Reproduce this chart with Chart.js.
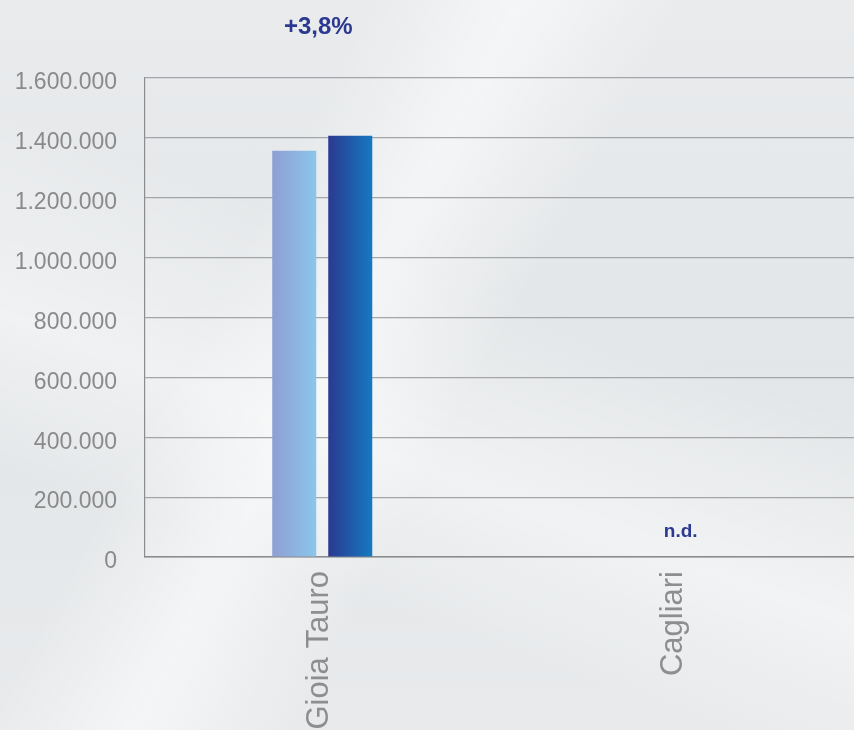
<!DOCTYPE html>
<html>
<head>
<meta charset="utf-8">
<script src="https://cdn.jsdelivr.net/npm/chart.js@4"></script>
<style>
  html, body { margin: 0; padding: 0; }
  body {
    width: 854px; height: 730px; overflow: hidden;
    background:
      linear-gradient(118deg, rgba(255,255,255,0) 30%, rgba(255,255,255,0.55) 42%, rgba(255,255,255,0) 55%),
      linear-gradient(200deg, rgba(255,255,255,0) 40%, rgba(255,255,255,0.45) 60%, rgba(255,255,255,0) 75%),
      linear-gradient(180deg, #e9ebed 0%, #e3e6e8 50%, #e8eaec 100%);
  }
  #wrap { position: relative; width: 854px; height: 730px; }
</style>
</head>
<body>
<div id="wrap"><canvas id="portsChart" width="854" height="730"></canvas></div>
<script>
const ports = ['Gioia Tauro', 'Cagliari'];
const previousYear = [1357000, null];
const currentYear = [1407000, null];
const notes = ['+3,8%', 'n.d.'];

const catPct = 0.316;
const barPct = 0.786;

function formatIt(v) {
    return String(v).replace(/\B(?=(\d{3})+(?!\d))/g, '.');
}

function barGradient(c0, c1) {
    return function (context) {
        const chart = context.chart;
        const xs = chart.scales.x;
        if (!xs || !chart.chartArea || context.dataIndex === undefined) return c0;
        const center = xs.getPixelForValue(context.dataIndex);
        const group = xs.width / ports.length * catPct;
        const chunk = group / 2;
        const left = center - group / 2 + context.datasetIndex * chunk + chunk * (1 - barPct) / 2;
        const g = chart.ctx.createLinearGradient(left, 0, left + chunk * barPct, 0);
        g.addColorStop(0, c0);
        g.addColorStop(1, c1);
        return g;
    };
}

const notesPlugin = {
    id: 'notes',
    afterDraw(chart) {
        const c = chart.ctx;
        const xs = chart.scales.x;
        const ys = chart.scales.y;
        c.save();
        c.fillStyle = '#2b3990';
        c.textAlign = 'center';
        c.textBaseline = 'middle';
        c.font = 'bold 24px "Liberation Sans Narrow", "Liberation Sans", sans-serif';
        c.fillText(notes[0], xs.getPixelForValue(0) - 4, 27);
        c.font = 'bold 19px "Liberation Sans Narrow", "Liberation Sans", sans-serif';
        c.fillText(notes[1], xs.getPixelForValue(1) + 4, ys.getPixelForValue(0) - 25);
        c.restore();
    }
};

const ctx = document.getElementById('portsChart');

new Chart(ctx, {
    type: 'bar',
    data: {
        labels: ports,
        datasets: [{
            label: 'Anno precedente',
            data: previousYear,
            backgroundColor: barGradient('#8e9fd3', '#8bc6eb'),
            categoryPercentage: catPct,
            barPercentage: barPct
        }, {
            label: 'Anno corrente',
            data: currentYear,
            backgroundColor: barGradient('#2b3990', '#1579c1'),
            categoryPercentage: catPct,
            barPercentage: barPct
        }]
    },
    options: {
        responsive: false,
        animation: false,
        layout: {
            padding: { top: 78, right: 0, left: 0, bottom: 0 }
        },
        plugins: {
            legend: { display: false },
            tooltip: { enabled: false }
        },
        scales: {
            y: {
                min: 0,
                max: 1600000,
                ticks: {
                    stepSize: 200000,
                    color: '#8a8a8a',
                    padding: 28,
                    labelOffset: 5,
                    font: { family: '"Liberation Sans", Helvetica, sans-serif', size: 23 },
                    callback: (v) => formatIt(v)
                },
                grid: { color: '#a3a5a7', lineWidth: 1.2, drawTicks: false },
                border: { display: true, color: '#8c8c8c', width: 1.2 },
                afterFit(scale) { scale.width = 145; }
            },
            x: {
                ticks: {
                    color: '#8e8e8e',
                    padding: 14,
                    labelOffset: -3,
                    minRotation: 90,
                    maxRotation: 90,
                    font: { family: '"Liberation Sans", Helvetica, sans-serif', size: 31 }
                },
                grid: { display: false, drawTicks: false },
                border: { display: true, color: '#8c8c8c', width: 1.5 },
                afterFit(scale) { scale.height = 173; }
            }
        }
    },
    plugins: [notesPlugin]
});
</script>
</body>
</html>
